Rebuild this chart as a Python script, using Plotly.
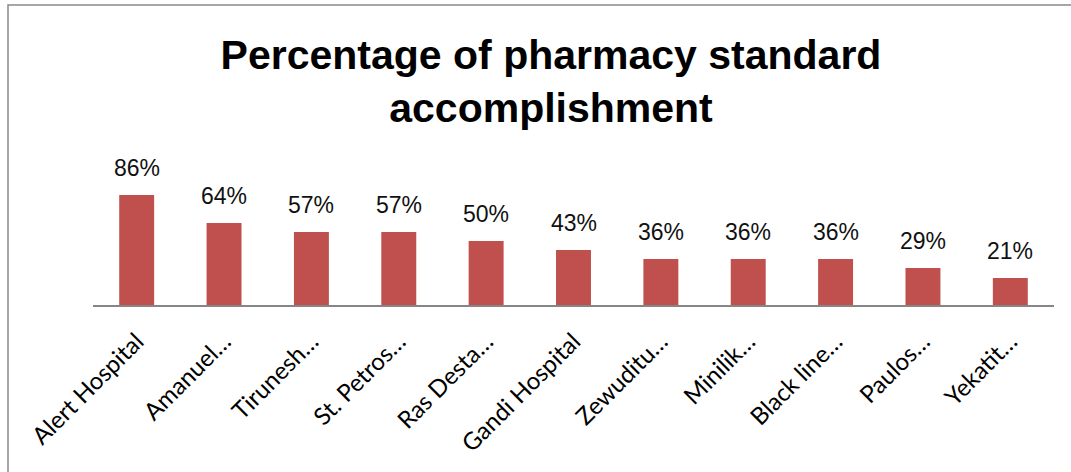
import plotly.graph_objects as go

categories = ["Alert Hospital", "Amanuel…", "Tirunesh…", "St. Petros…", "Ras Desta…",
              "Gandi Hospital", "Zewuditu…", "Minilik…", "Black line…", "Paulos…", "Yekatit…"]
values = [0.86, 0.64, 0.57, 0.57, 0.50, 0.43, 0.36, 0.36, 0.36, 0.29, 0.21]
labels = ["86%", "64%", "57%", "57%", "50%", "43%", "36%", "36%", "36%", "29%", "21%"]

W, H = 1071, 472
ML, MR, MT, MB = 93, 17, 177, 167
pw = W - ML - MR
ph = H - MT - MB

NARROW = "Liberation Sans Narrow, Arial Narrow, Liberation Sans, Arial, sans-serif"

fig = go.Figure()
fig.add_trace(go.Bar(
    x=categories, y=values,
    marker=dict(color="#C0504D", line=dict(width=0)),
    width=0.4,
    cliponaxis=False,
    hoverinfo="skip",
))

for c, v, t in zip(categories, values, labels):
    fig.add_annotation(x=c, y=v, text=t, showarrow=False, xanchor="center", yanchor="bottom",
                       yshift=12, font=dict(family=NARROW, size=23, color="#111111"))

# chart border
fig.add_shape(type="rect", xref="paper", yref="paper",
              x0=(8 - ML) / pw, x1=(W + 10 - ML) / pw,
              y0=-(H + 10 - (H - MB)) / ph, y1=((H - MB) - 5) / ph,
              line=dict(color="#898989", width=1.5), fillcolor="rgba(0,0,0,0)", layer="below")

fig.update_layout(
    width=W, height=H,
    margin=dict(l=ML, r=MR, t=MT, b=MB),
    paper_bgcolor="white", plot_bgcolor="white",
    showlegend=False,
    title=dict(text="<b>Percentage of pharmacy standard<br>accomplishment</b>",
               x=551 / W, xanchor="center", xref="container",
               y=1 - 69 / H, yanchor="top", yref="container",
               font=dict(family=NARROW, size=41, color="black")),
    xaxis=dict(showline=True, linecolor="#868686", linewidth=2, ticks="", showgrid=False,
               tickangle=-45, tickfont=dict(family="Lato, Carlito, sans-serif", size=24, color="black"),
               ticklabelstandoff=11,
               zeroline=False, fixedrange=True),
    yaxis=dict(visible=False, range=[0, 1], showgrid=False, zeroline=False, fixedrange=True),
)

fig.write_html("out.html")
